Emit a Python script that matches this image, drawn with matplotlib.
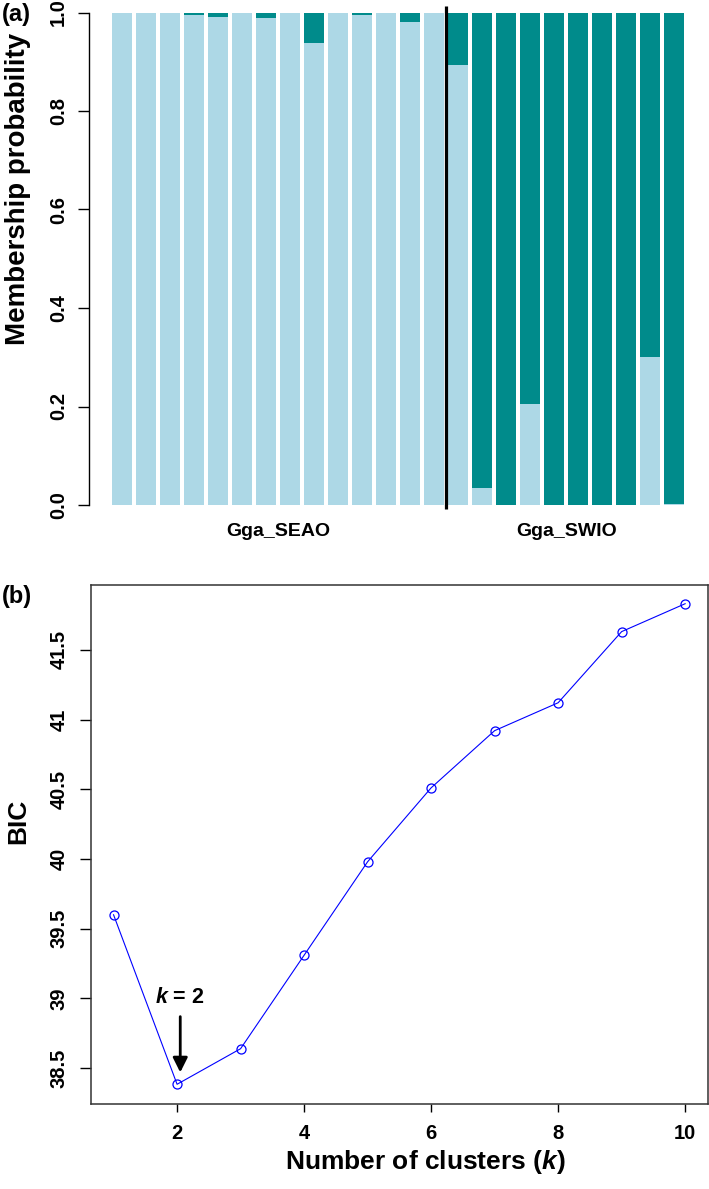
import matplotlib
matplotlib.use("Agg")
import matplotlib.pyplot as plt
import numpy as np

plt.rcParams['font.family'] = ['Liberation Sans', 'DejaVu Sans']
plt.rcParams['font.weight'] = 'bold'
plt.rcParams['mathtext.fontset'] = 'custom'
plt.rcParams['mathtext.it'] = 'Liberation Sans:bold:italic'
plt.rcParams['mathtext.rm'] = 'Liberation Sans:bold'

# (a) membership probability of cluster 1 (light blue) per individual
seao_p1 = [1.0, 1.0, 1.0, 0.995, 0.99, 1.0, 0.989, 1.0, 0.938, 0.998, 0.994, 0.998, 0.98, 1.0]
swio_p1 = [0.894, 0.035, 0.0, 0.206, 0.0, 0.0, 0.0, 0.0, 0.30, 0.003]
group_names = ["Gga_SEAO", "Gga_SWIO"]

# (b) BIC for k = 1..10
k_values = [1, 2, 3, 4, 5, 6, 7, 8, 9, 10]
bic_values = [39.60, 38.385, 38.64, 39.31, 39.98, 40.51, 40.92, 41.12, 41.63, 41.83]
bic_ticks = [38.5, 39, 39.5, 40, 40.5, 41, 41.5]
bic_ticklabels = ["38.5", "39", "39.5", "40", "40.5", "41", "41.5"]

light = "#ADD8E6"
teal = "#008B8B"

W, H = 709, 1189
fig = plt.figure(figsize=(W / 100, H / 100), dpi=100)

# ---- panel (a) ----
ax1 = fig.add_axes([89 / W, (H - 505) / H, (707.3 - 89) / W, 492.5 / H])
p1 = np.array(seao_p1 + swio_p1)
n = len(p1)
left = 0.2 + 1.2 * np.arange(n)
ax1.bar(left, p1, width=1.0, align='edge', color=light, linewidth=0)
ax1.bar(left, 1 - p1, bottom=p1, width=1.0, align='edge', color=teal, linewidth=0)
sep = (left[len(seao_p1) - 1] + 1 + left[len(seao_p1)]) / 2
ax1.plot([sep, sep], [-0.008, 1.013], color='black', lw=2.3, clip_on=False,
         solid_capstyle='butt')
ax1.set_xlim(-0.944, 29.944)
ax1.set_ylim(0, 1)
for s in ['top', 'right', 'bottom']:
    ax1.spines[s].set_visible(False)
ax1.spines['left'].set_linewidth(1.0)
ax1.set_yticks(np.arange(0, 1.01, 0.2))
ax1.set_yticklabels(["0.0", "0.2", "0.4", "0.6", "0.8", "1.0"], rotation=90,
                    va='center', fontsize=14.5)
ax1.tick_params(axis='y', length=8, width=1.0, pad=7)
c1 = (left[0] + left[len(seao_p1) - 1] + 1) / 2
c2 = (left[len(seao_p1)] + left[-1] + 1) / 2
ax1.set_xticks([c1, c2])
ax1.set_xticklabels(group_names, fontsize=14)
ax1.tick_params(axis='x', length=0, pad=13)
fig.text(18 / W, (H - 189) / H, "Membership probability", rotation=90,
         ha='center', va='center', fontsize=20)
fig.text(2 / W, (H - 14) / H, "(a)", ha='left', va='center', fontsize=17)

# ---- panel (b) ----
ax2 = fig.add_axes([90.7 / W, (H - 1103.5) / H, (708 - 90.7) / W, (1103.5 - 584.5) / H])
ax2.plot(k_values, bic_values, color='#0000FF', lw=0.8, marker='o', markersize=6.5,
         markerfacecolor='none', markeredgecolor='#0000FF', markeredgewidth=0.9)
rng = max(bic_values) - min(bic_values)
ax2.set_ylim(min(bic_values) - 0.04 * rng, max(bic_values) + 0.04 * rng)
ax2.set_xlim(1 - 0.36, 10 + 0.36)
ax2.set_xticks([2, 4, 6, 8, 10])
ax2.set_yticks(bic_ticks)
ax2.set_yticklabels(bic_ticklabels, rotation=90, va='center', fontsize=14.5)
ax2.tick_params(axis='x', labelsize=14.5, length=6, width=1.0, pad=9)
ax2.tick_params(axis='y', length=8, width=1.0, pad=8)
for s in ax2.spines.values():
    s.set_linewidth(1.1)
    s.set_color('#333333')
ax2.annotate('', xy=(2.05, 38.47), xytext=(2.05, 38.87),
             arrowprops=dict(arrowstyle='-|>', lw=2.0, color='black', mutation_scale=22,
                             shrinkA=0, shrinkB=0))
ax2.text(2.05, 39.01, r"$k$ = 2", ha='center', va='center', fontsize=15.5)
fig.text(425 / W, (H - 1162) / H, r"Number of clusters ($k$)", ha='center',
         va='center', fontsize=19)
fig.text(18 / W, (H - 821) / H, "BIC", rotation=90, ha='center', va='center',
         fontsize=19)
fig.text(2 / W, (H - 597) / H, "(b)", ha='left', va='center', fontsize=17)

fig.savefig("out.png", dpi=100)
